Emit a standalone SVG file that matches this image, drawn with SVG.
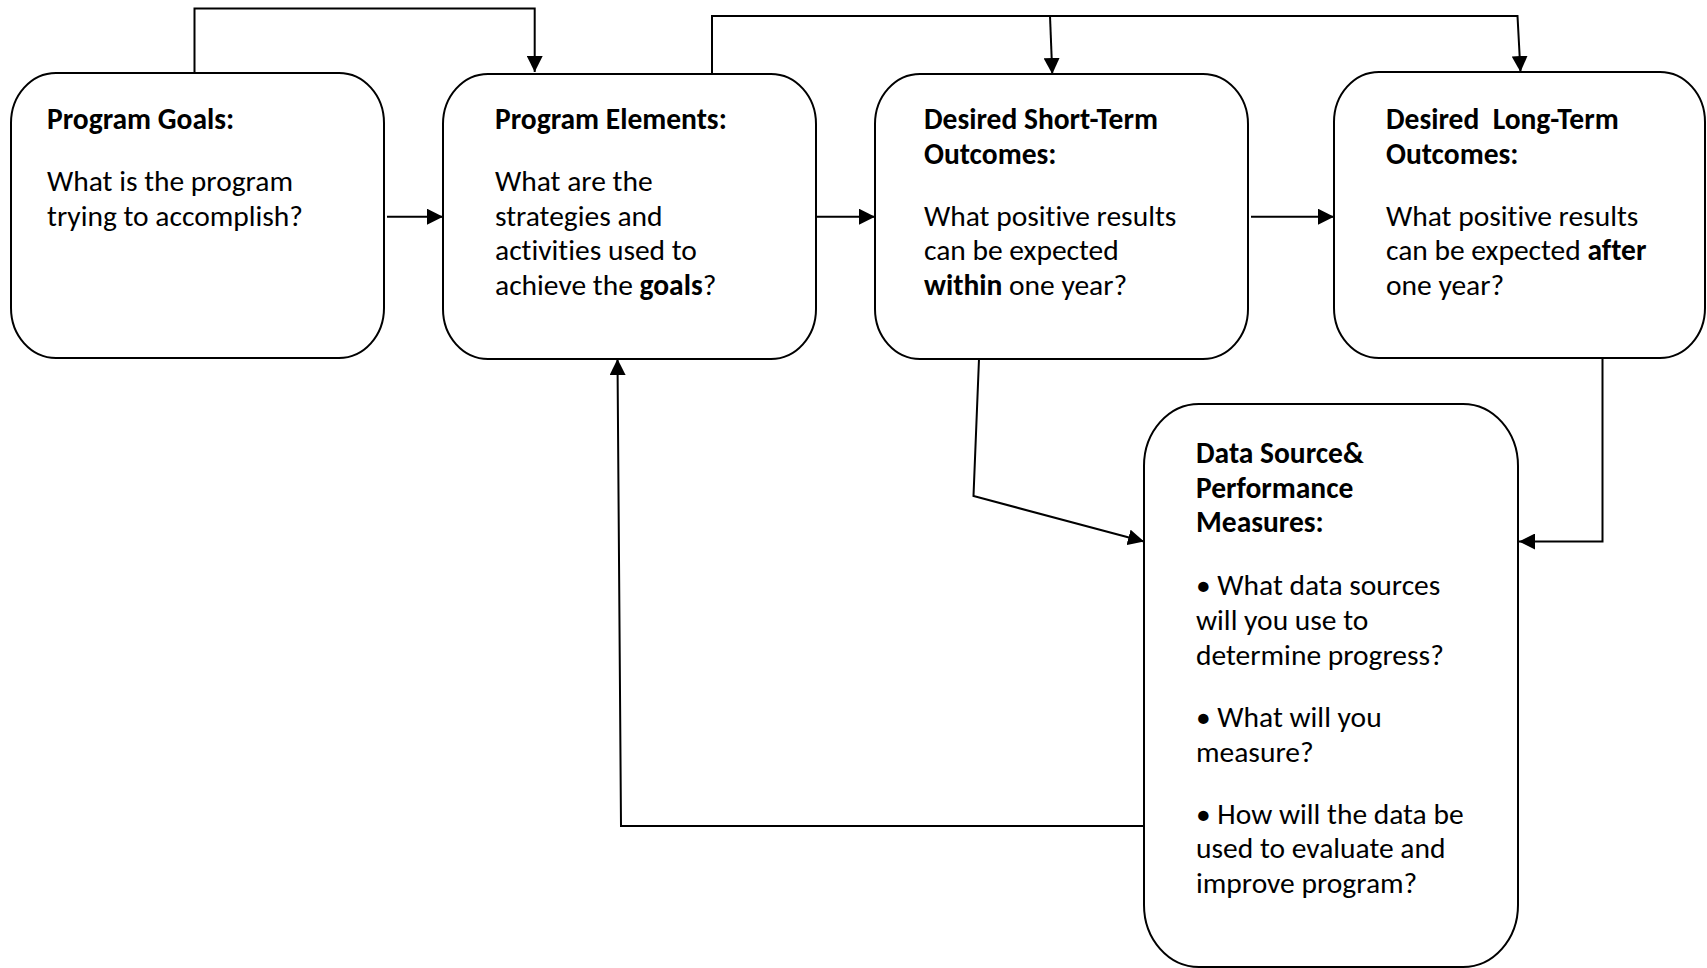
<svg xmlns="http://www.w3.org/2000/svg" width="1707" height="968" viewBox="0 0 1707 968">
<defs>
<marker id="ah" viewBox="0 0 16 16" refX="16" refY="8" markerWidth="16" markerHeight="16" markerUnits="userSpaceOnUse" orient="auto">
<path d="M0,0 L16,8 L0,16 z" fill="#000"/>
</marker>
<style>
.box{fill:#fff;stroke:#000;stroke-width:2}
.t{font-family:Carlito,Lato,"Liberation Sans",sans-serif;font-size:29.5px;fill:#000;font-variant-ligatures:none}
.b{font-weight:bold}
.c{fill:none;stroke:#000;stroke-width:2;marker-end:url(#ah)}
</style>
</defs>
<rect width="1707" height="968" fill="#fff"/>
<g id="connectors">
<path class="c" d="M194.5 73 V8.5 H534.7 V72"/>
<path class="c" d="M387 216.7 H443"/>
<path class="c" d="M712 74 V16 H1517.5 L1520.5 72"/>
<path class="c" d="M1050 16 L1052.3 74"/>
<path class="c" d="M816 216.7 H875"/>
<path class="c" d="M1251 216.7 H1334"/>
<path class="c" d="M979 359 L973.5 496 L1144 541.5"/>
<path class="c" d="M1602.5 358 V541.5 H1519"/>
<path class="c" d="M1144 826 H621 L617.5 359"/>
</g>
<g id="goals">
<rect class="box" x="11" y="73" width="373" height="285" rx="45" ry="50"/>
<text class="t b" x="47" y="129">Program Goals:</text>
<text class="t" x="47" y="191">What is the program</text>
<text class="t" x="47" y="225.7">trying to accomplish?</text>
</g>
<g id="elements">
<rect class="box" x="443" y="74" width="373" height="285" rx="45" ry="50"/>
<text class="t b" x="495" y="129">Program Elements:</text>
<text class="t" x="495" y="191">What are the</text>
<text class="t" x="495" y="225.7">strategies and</text>
<text class="t" x="495" y="260.4">activities used to</text>
<text class="t" x="495" y="295.1">achieve the <tspan class="b">goals</tspan>?</text>
</g>
<g id="short-term">
<rect class="box" x="875" y="74" width="373" height="285" rx="45" ry="50"/>
<text class="t b" x="924" y="129">Desired Short-Term</text>
<text class="t b" x="924" y="163.7">Outcomes:</text>
<text class="t" x="924" y="225.7">What positive results</text>
<text class="t" x="924" y="260.4">can be expected</text>
<text class="t" x="924" y="295.1"><tspan class="b">within</tspan> one year?</text>
</g>
<g id="long-term">
<rect class="box" x="1334" y="72" width="371" height="286" rx="45" ry="50"/>
<text class="t b" x="1386" y="129" xml:space="preserve">Desired  Long-Term</text>
<text class="t b" x="1386" y="163.7">Outcomes:</text>
<text class="t" x="1386" y="225.7">What positive results</text>
<text class="t" x="1386" y="260.4">can be expected <tspan class="b">after</tspan></text>
<text class="t" x="1386" y="295.1">one year?</text>
</g>
<g id="data-source">
<rect class="box" x="1144" y="404" width="374" height="563" rx="55" ry="62"/>
<text class="t b" x="1196" y="463">Data Source&amp;</text>
<text class="t b" x="1196" y="497.7">Performance</text>
<text class="t b" x="1196" y="532.4">Measures:</text>
<text class="t" x="1196" y="595.4">• What data sources</text>
<text class="t" x="1196" y="630.1">will you use to</text>
<text class="t" x="1196" y="664.8">determine progress?</text>
<text class="t" x="1196" y="727">• What will you</text>
<text class="t" x="1196" y="761.7">measure?</text>
<text class="t" x="1196" y="823.5">• How will the data be</text>
<text class="t" x="1196" y="858.2">used to evaluate and</text>
<text class="t" x="1196" y="892.9">improve program?</text>
</g>
</svg>
